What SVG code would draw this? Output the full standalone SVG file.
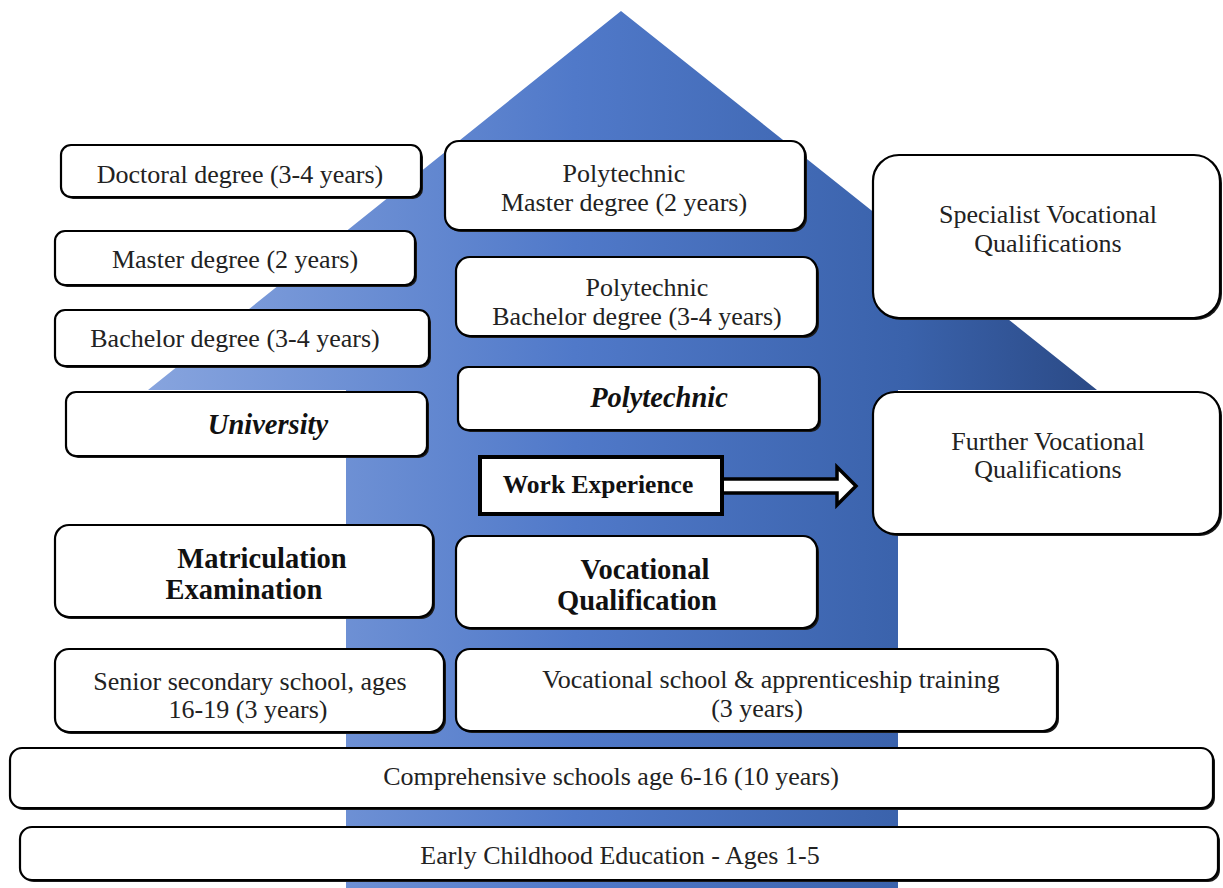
<svg xmlns="http://www.w3.org/2000/svg" width="1223" height="888" viewBox="0 0 1223 888">
  <defs>
    <linearGradient id="blueFill" gradientUnits="userSpaceOnUse" x1="148" y1="0" x2="1097" y2="0">
      <stop offset="0" stop-color="#87a4de"/>
      <stop offset="0.45" stop-color="#5079c9"/>
      <stop offset="0.8" stop-color="#3a62ab"/>
      <stop offset="1" stop-color="#2b4a86"/>
    </linearGradient>
  </defs>
  <style>
    .box { fill: #ffffff; stroke: #000000; stroke-width: 2.2; }
    .shadow { fill: #1a1a1a; }
    .t { font-family: "Liberation Serif", "Times New Roman", serif; font-size: 26px; fill: #222222; text-anchor: middle; dominant-baseline: central; }
    .bi { font-weight: 700; font-style: italic; font-size: 28.5px; fill: #111111; }
    .b { font-weight: 700; font-size: 28.5px; fill: #111111; }
  </style>

  <rect width="1223" height="888" fill="#ffffff"/>

  <!-- upward arrow backdrop -->
  <path id="backdrop" d="M621 11 L1097 390 L898 390 L898 888 L346 888 L346 390 L148 390 Z" fill="url(#blueFill)"/>

  <g id="doctoral">
    <rect class="shadow" x="63" y="147" width="360" height="52" rx="10"/>
    <rect class="box" x="61" y="145" width="360" height="52" rx="10"/>
    <text class="t" x="240" y="174">Doctoral degree (3-4 years)</text>
  </g>

  <g id="poly-master">
    <rect class="shadow" x="447" y="143" width="360" height="89" rx="14"/>
    <rect class="box" x="445" y="141" width="360" height="89" rx="14"/>
    <text class="t" x="624" y="173">Polytechnic</text>
    <text class="t" x="624" y="202">Master degree (2 years)</text>
  </g>

  <g id="specialist">
    <rect class="shadow" x="875" y="157" width="347" height="163" rx="26"/>
    <rect class="box" x="873" y="155" width="347" height="163" rx="26"/>
    <text class="t" x="1048" y="214">Specialist Vocational</text>
    <text class="t" x="1048" y="243">Qualifications</text>
  </g>

  <g id="master">
    <rect class="shadow" x="57" y="233" width="360" height="54" rx="10"/>
    <rect class="box" x="55" y="231" width="360" height="54" rx="10"/>
    <text class="t" x="235" y="259">Master degree (2 years)</text>
  </g>

  <g id="poly-bachelor">
    <rect class="shadow" x="458" y="259" width="361" height="79" rx="14"/>
    <rect class="box" x="456" y="257" width="361" height="79" rx="14"/>
    <text class="t" x="647" y="287">Polytechnic</text>
    <text class="t" x="637" y="316">Bachelor degree (3-4 years)</text>
  </g>

  <g id="bachelor">
    <rect class="shadow" x="57" y="312" width="374" height="56" rx="10"/>
    <rect class="box" x="55" y="310" width="374" height="56" rx="10"/>
    <text class="t" x="235" y="338">Bachelor degree (3-4 years)</text>
  </g>

  <g id="university">
    <rect class="shadow" x="68" y="394" width="361" height="64" rx="10"/>
    <rect class="box" x="66" y="392" width="361" height="64" rx="10"/>
    <text class="t bi" x="268" y="424">University</text>
  </g>

  <g id="polytechnic">
    <rect class="shadow" x="460" y="369" width="361" height="63" rx="10"/>
    <rect class="box" x="458" y="367" width="361" height="63" rx="10"/>
    <text class="t bi" x="659" y="397">Polytechnic</text>
  </g>

  <g id="further">
    <rect class="shadow" x="875" y="394" width="347" height="142" rx="22"/>
    <rect class="box" x="873" y="392" width="347" height="142" rx="22"/>
    <text class="t" x="1048" y="441">Further Vocational</text>
    <text class="t" x="1048" y="469">Qualifications</text>
  </g>

  <g id="connectors">
    <!-- work experience leads on to further vocational qualifications -->
    <path d="M722 479 L837 479 L837 467 L856 486 L837 505 L837 493 L722 493 Z" fill="#ffffff" stroke="#000000" stroke-width="3.5" stroke-linejoin="miter"/>
  </g>

  <g id="work-experience">
    <rect x="480" y="457" width="242" height="57" fill="#ffffff" stroke="#000000" stroke-width="4"/>
    <text class="t b" x="598" y="484" style="font-size:25.5px">Work Experience</text>
  </g>

  <g id="matriculation">
    <rect class="shadow" x="57" y="527" width="378" height="92" rx="14"/>
    <rect class="box" x="55" y="525" width="378" height="92" rx="14"/>
    <text class="t b" x="262" y="558">Matriculation</text>
    <text class="t b" x="244" y="589">Examination</text>
  </g>

  <g id="vocational-qualification">
    <rect class="shadow" x="458" y="538" width="361" height="92" rx="14"/>
    <rect class="box" x="456" y="536" width="361" height="92" rx="14"/>
    <text class="t b" x="645" y="569">Vocational</text>
    <text class="t b" x="637" y="600">Qualification</text>
  </g>

  <g id="senior-secondary">
    <rect class="shadow" x="57" y="651" width="389" height="83" rx="14"/>
    <rect class="box" x="55" y="649" width="389" height="83" rx="14"/>
    <text class="t" x="250" y="681">Senior secondary school, ages</text>
    <text class="t" x="248" y="709">16-19 (3 years)</text>
  </g>

  <g id="vocational-school">
    <rect class="shadow" x="458" y="651" width="601" height="82" rx="14"/>
    <rect class="box" x="456" y="649" width="601" height="82" rx="14"/>
    <text class="t" x="771" y="679">Vocational school &amp; apprenticeship training</text>
    <text class="t" x="757" y="708">(3 years)</text>
  </g>

  <g id="comprehensive">
    <rect class="shadow" x="12" y="750" width="1203" height="60" rx="12"/>
    <rect class="box" x="10" y="748" width="1203" height="60" rx="12"/>
    <text class="t" x="611" y="776">Comprehensive schools age 6-16 (10 years)</text>
  </g>

  <g id="early-childhood">
    <rect class="shadow" x="22" y="829" width="1198" height="53" rx="12"/>
    <rect class="box" x="20" y="827" width="1198" height="53" rx="12"/>
    <text class="t" x="620" y="855">Early Childhood Education - Ages 1-5</text>
  </g>
</svg>
